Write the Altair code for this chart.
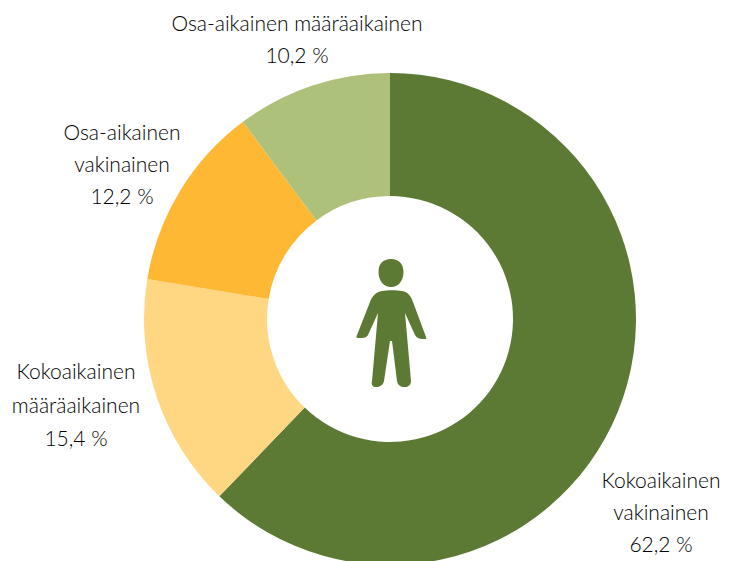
import altair as alt
import pandas as pd

categories = ["Kokoaikainen vakinainen", "Kokoaikainen määräaikainen", "Osa-aikainen vakinainen", "Osa-aikainen määräaikainen"]
values = [62.2, 15.4, 12.2, 10.2]
value_labels = ["62,2 %", "15,4 %", "12,2 %", "10,2 %"]
line_texts = ["Kokoaikainen\nvakinainen", "Kokoaikainen\nmääräaikainen", "Osa-aikainen\nvakinainen", "Osa-aikainen määräaikainen"]
colors = ["#5C7A33", "#FFD681", "#FFB834", "#AEC17A"]

df = pd.DataFrame({
    "cat": categories,
    "value": values,
    "order": range(len(values)),
    "label": [f"{t}\n{v}" for t, v in zip(line_texts, value_labels)],
})

# Page offset is 8 px; these are chart coordinates (x, y of first line, line height).
CX, CY = 382, 311
label_pos = {
    categories[0]: (653, 474, 32),
    categories[1]: (68, 365, 33.5),
    categories[2]: (114, 126, 32),
    categories[3]: (289, 17, 32),
}

donut = alt.Chart(df).mark_arc(radius=246, radius2=123, stroke=None).encode(
    theta=alt.Theta("value:Q", stack=True),
    order=alt.Order("order:Q"),
    color=alt.Color("cat:N", scale=alt.Scale(domain=categories, range=colors), legend=None),
    x=alt.value(CX),
    y=alt.value(CY),
)

layers = [donut]
for cat, (px, py, lh) in label_pos.items():
    layers.append(
        alt.Chart(df[df["cat"] == cat]).mark_text(
            font="Lato", fontWeight=300, fontSize=21, color="#000000",
            lineBreak="\n", lineHeight=lh, align="center", baseline="middle",
        ).encode(text="label:N", x=alt.value(px), y=alt.value(py))
    )

# Person icon, path units are pixels around the icon centre (size 4 gives unit scale).
person = (
    "M0,-64 C8,-64 12.5,-59 12.5,-51 C12.5,-42 7,-36 0,-36 C-7,-36 -12.5,-42 -12.5,-51 C-12.5,-59 -8,-64 0,-64 Z "
    "M-9,-32 C-3,-33 5,-33 11,-32 C17,-31 20,-27 22,-21 L35,14 C36,16 35,16 33,16 C28,16 26,15 24,12 L14,-10 "
    "L20,58 C20,62 17,64 14,64 C9,64 7,62 6,58 L1,18 L-1,18 L-7,58 C-8,62 -11,64 -15,64 C-18,64 -20,62 -19,58 L-13,-10 "
    "L-23,12 C-25,15 -27,15 -33,15 C-35,15 -35,14 -34,12 L-21,-21 C-19,-27 -15,-31 -9,-32 Z"
)
icon = alt.Chart(pd.DataFrame({"icon": ["person"]})).mark_point(
    shape=person, size=4, filled=True, fill="#5C7A33", stroke=None, opacity=1
).encode(x=alt.value(CX + 1), y=alt.value(CY + 4))
layers.append(icon)

chart = alt.layer(*layers).properties(
    width=723, height=553, padding=0,
    autosize=alt.AutoSizeParams(type="none"),
).configure_view(stroke=None)

chart.save("out.html", embed_options={"renderer": "svg", "actions": False})
